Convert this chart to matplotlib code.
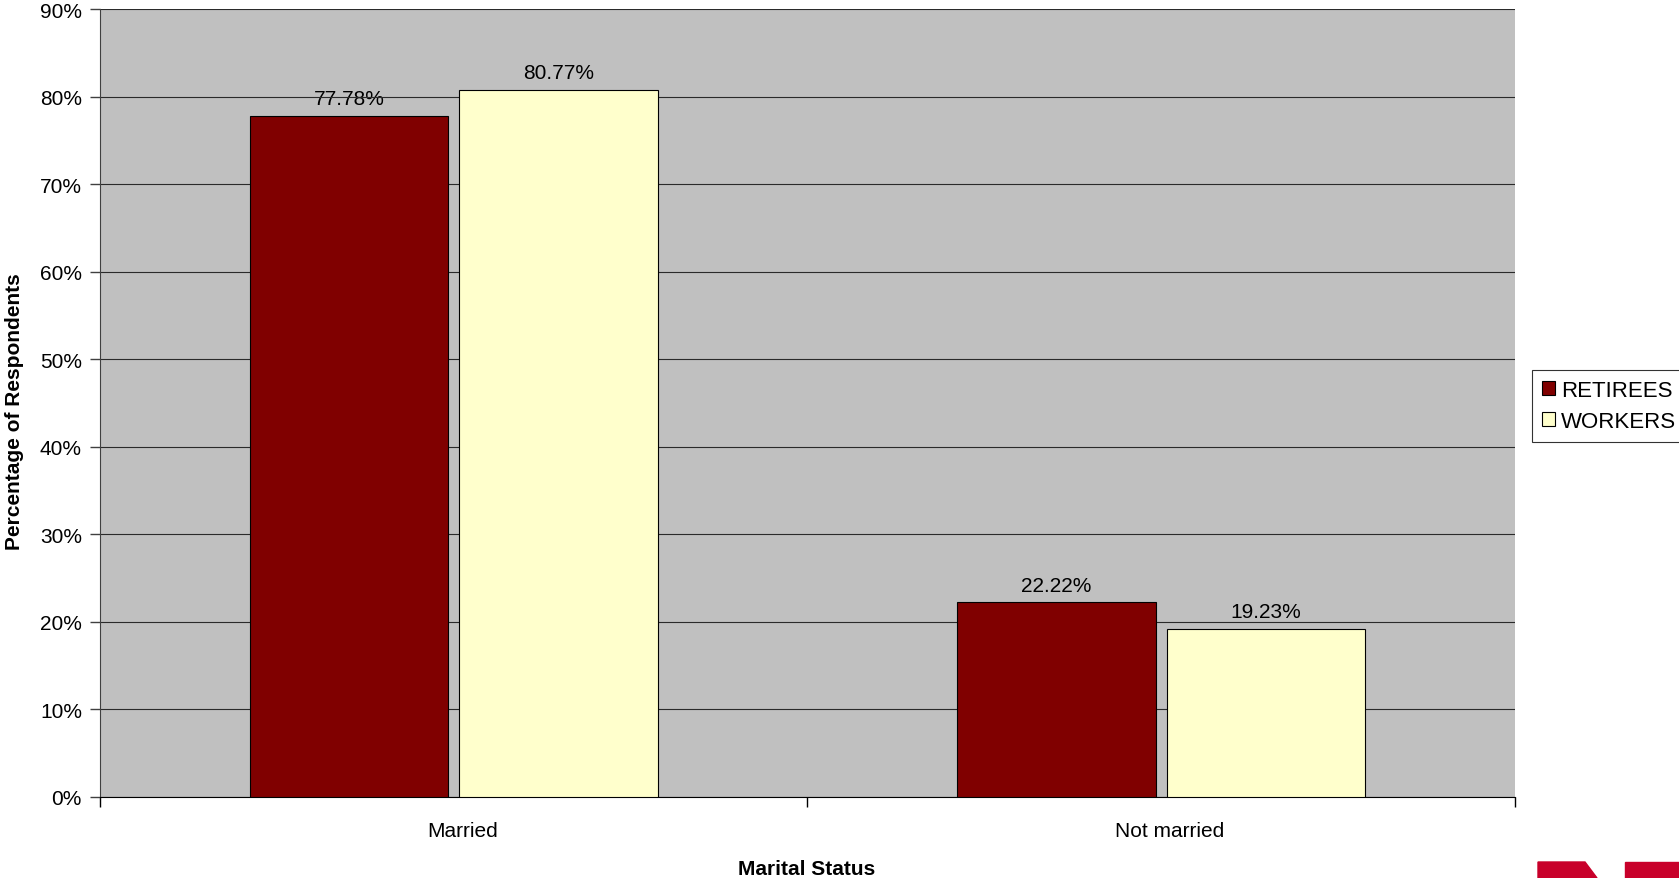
import numpy as np
import matplotlib.pyplot as plt
from matplotlib.patches import Polygon
from matplotlib.transforms import ScaledTranslation

# --- Data ---
categories = ["Married", "Not married"]
series_names = ["RETIREES", "WORKERS"]
retirees = [77.78, 22.22]
workers = [80.77, 19.23]

# --- Style ---
plt.rcParams['font.family'] = ['Liberation Sans', 'DejaVu Sans']
W, H, DPI = 1679, 879, 100
FS = 15
BAR_W = 0.281
OFFSET = 0.148
colors = ['#800000', '#FFFFCC']

fig = plt.figure(figsize=(W / DPI, H / DPI), dpi=DPI, facecolor='white')
ax = fig.add_axes([100 / W, 1 - 798 / H, 1415 / W, 788 / H], facecolor='#C0C0C0')

x = np.arange(len(categories)) + 0.5
for vals, off, col, name in zip([retirees, workers], [-OFFSET, OFFSET], colors, series_names):
    bars = ax.bar(x + off, vals, BAR_W, color=col, edgecolor='black', linewidth=0.8,
                  label=name, zorder=3)
    for b, v in zip(bars, vals):
        ax.annotate(f"{v:.2f}%", (b.get_x() + b.get_width() / 2, v),
                    xytext=(0, 8.5), textcoords='offset points', ha='center',
                    va='baseline', fontsize=FS, zorder=0.5)

ax.set_xlim(0, len(categories))
ax.set_ylim(0, 90)
ax.set_yticks(np.arange(0, 91, 10))
ax.set_yticklabels([f"{t}%" for t in range(0, 91, 10)], fontsize=FS)
ax.yaxis.grid(True, color='#2a2a2a', linewidth=0.8, zorder=1)
ax.set_axisbelow(True)

ax.set_xticks(np.arange(len(categories) + 1))
ax.set_xticklabels([])
ax.set_xticks(x, minor=True)
ax.set_xticklabels(categories, minor=True, fontsize=FS)
ax.tick_params(axis='x', which='minor', length=0, pad=17)
ax.tick_params(axis='x', which='major', length=7, width=1, color='black')
ax.tick_params(axis='y', length=7, width=1, color='#404040', pad=6)
# category labels sit a little right of the centre, as in the original
shift = ScaledTranslation(8.5 / DPI, 0, fig.dpi_scale_trans)
for lbl in ax.get_xticklabels(minor=True):
    lbl.set_transform(lbl.get_transform() + shift)

for s in ['top', 'right']:
    ax.spines[s].set_visible(False)
ax.spines['left'].set_color('#404040')
ax.spines['bottom'].set_color('black')

fig.text(15 / W, 1 - 412 / H, "Percentage of Respondents", rotation=90,
         ha='center', va='center', fontsize=FS, fontweight='bold')
fig.text(807 / W, 1 - 870 / H, "Marital Status", ha='center', va='center',
         fontsize=FS, fontweight='bold')

leg = fig.legend(loc='upper left', bbox_to_anchor=(1532 / W, 1 - 371 / H),
                 fontsize=16, frameon=True, fancybox=False, handlelength=0.6,
                 handleheight=0.6, handletextpad=0.25, borderpad=0.45,
                 labelspacing=0.45, borderaxespad=0)
leg.get_frame().set_edgecolor('black')
leg.get_frame().set_linewidth(0.8)

# red logo fragment at the bottom right
logo_red = '#C8002A'
fig.patches.append(Polygon([[1538 / W, 0], [1597 / W, 0], [1585 / W, 1 - 863 / H],
                            [1538 / W, 1 - 863 / H]], closed=True,
                           transform=fig.transFigure, color=logo_red))
fig.patches.append(Polygon([[1625 / W, 0], [1, 0], [1, 1 - 863 / H],
                            [1625 / W, 1 - 863 / H]], closed=True,
                           transform=fig.transFigure, color=logo_red))

fig.savefig('out.png', dpi=DPI, facecolor='white')
